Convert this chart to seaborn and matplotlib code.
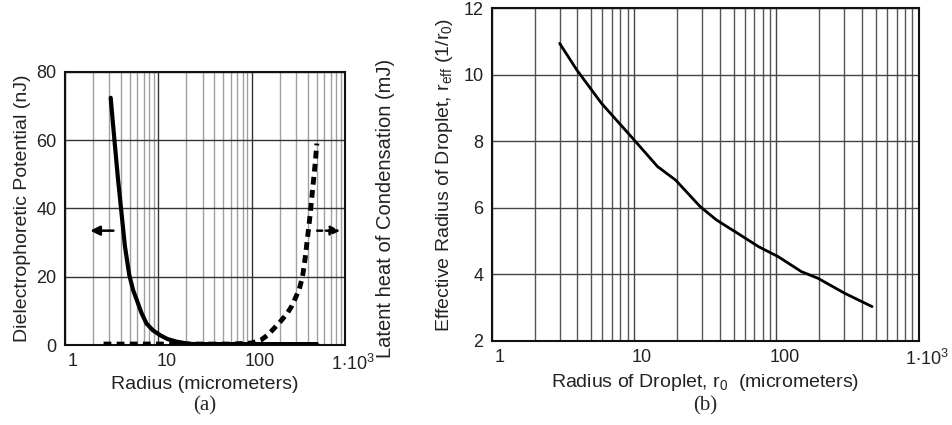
#!/usr/bin/env python3
"""
Two-panel log-x chart: dielectrophoretic potential vs latent heat (a),
effective droplet radius (b).
"""

import matplotlib
matplotlib.use("Agg")
import matplotlib.pyplot as plt
import matplotlib.transforms as mtransforms
from matplotlib.ticker import FixedLocator, FixedFormatter, NullFormatter
import seaborn as sns
import pandas as pd

sns.set_theme(style="white")
plt.rcParams['font.family'] = ['Liberation Sans', 'DejaVu Sans']
plt.rcParams['mathtext.default'] = 'regular'

# panel (a) data
dep_radius = [3.1, 3.25, 3.4, 3.7, 4.0, 4.4, 4.9, 5.4, 5.9, 6.6, 7.5, 8.8, 10.5, 12.5, 15.8, 20, 24, 50, 100, 200, 500]
dep_energy = [72.4, 66, 60, 49, 40, 29, 20.5, 16, 13.2, 9.5, 6.3, 4.3, 2.9, 1.8, 1.0, 0.5, 0.3, 0.3, 0.3, 0.3, 0.3]

heat_radius = [2.6, 10, 30, 60, 100, 126, 150, 174, 205, 241, 270, 297, 325, 351, 375, 398, 425, 448, 475, 500]
heat_energy = [0.3, 0.3, 0.3, 0.3, 0.6, 1.5, 3.0, 4.9, 7.0, 9.3, 11.5, 14, 16.5, 20, 25.5, 31.7, 38.5, 45, 52, 59]

# panel (b) data
drop_radius = [3.0, 3.96, 5.9, 10, 14.6, 19.6, 29.2, 38, 54, 75, 103, 150, 196, 302, 470]
eff_radius = [10.94, 10.14, 9.14, 8.04, 7.24, 6.83, 6.03, 5.63, 5.22, 4.83, 4.53, 4.08, 3.88, 3.43, 3.03]

xtick_vals = [1, 10, 100, 1000]
xtick_labels = ['1', '10', '100', r'1$\cdot$10$^3$']

df_dep = pd.DataFrame({'r': dep_radius, 'E': dep_energy})
df_heat = pd.DataFrame({'r': heat_radius, 'Q': heat_energy})
df_eff = pd.DataFrame({'r': drop_radius, 'reff': eff_radius})

fig = plt.figure(figsize=(9.53, 4.25), dpi=100)
ax_a = fig.add_axes([0.068, 0.188, 0.294, 0.643])
ax_b = fig.add_axes([0.516, 0.198, 0.448, 0.783])

minor_locs = [m * 10 ** d for d in range(3) for m in range(2, 10)]
text_color = '#222222'


def style_log_axis(ax, minor_color, major_color):
    ax.set_xscale('log')
    ax.set_xlim(1, 1000)
    ax.xaxis.set_major_locator(FixedLocator(xtick_vals))
    ax.xaxis.set_major_formatter(FixedFormatter(xtick_labels))
    ax.xaxis.set_minor_locator(FixedLocator(minor_locs))
    ax.xaxis.set_minor_formatter(NullFormatter())
    ax.grid(True, which='minor', axis='x', color=minor_color, lw=1.0)
    ax.grid(True, which='major', axis='both', color=major_color, lw=1.0)
    ax.tick_params(which='both', length=0, labelsize=13, colors=text_color, pad=6)
    for s in ax.spines.values():
        s.set_color('#111111')
        s.set_linewidth(1.5)
    ax.set_axisbelow(True)


def shift_xlabels(ax):
    # labels sit slightly right of their grid line in the original
    offset = mtransforms.ScaledTranslation(8 / 100, 0, fig.dpi_scale_trans)
    for lbl in ax.get_xticklabels():
        lbl.set_transform(lbl.get_transform() + offset)


# ---- panel (a) ----
sns.lineplot(data=df_dep, x='r', y='E', ax=ax_a, color='black', lw=3.0, zorder=3)
style_log_axis(ax_a, '#a0a0a0', '#333333')
ax_a.set_ylim(0, 80)
ax_a.set_yticks([0, 20, 40, 60, 80])
ax_a.set_xlabel('Radius (micrometers)', fontsize=14, labelpad=2, color=text_color)
ax_a.set_ylabel('Dielectrophoretic Potential (nJ)', fontsize=14, labelpad=4, color=text_color)

ax_a2 = ax_a.twinx()
sns.lineplot(data=df_heat, x='r', y='Q', ax=ax_a2, color='black', lw=3.5,
             linestyle=(0, (1.6, 1.1)), zorder=3)
ax_a2.set_ylim(0, 80)
ax_a2.set_yticks([])
ax_a2.set_ylabel('Latent heat of Condensation (mJ)', fontsize=14.5, labelpad=22, color=text_color)
for s in ax_a2.spines.values():
    s.set_visible(False)

ax_a.annotate('', xy=(1.75, 33.5), xytext=(3.55, 33.5),
              arrowprops=dict(arrowstyle='-|>', color='black', lw=1.8, mutation_scale=14))
ax_a.annotate('', xy=(950, 33.5), xytext=(470, 33.5),
              arrowprops=dict(arrowstyle='-|>', color='black', lw=1.8, ls=(0, (2, 1.5)),
                              mutation_scale=14))

# ---- panel (b) ----
sns.lineplot(data=df_eff, x='r', y='reff', ax=ax_b, color='black', lw=2.0, zorder=3)
style_log_axis(ax_b, '#555555', '#444444')
ax_b.set_ylim(2, 12)
ax_b.set_yticks([2, 4, 6, 8, 10, 12])
ax_b.set_xlabel('Radius of Droplet, r$_0$  (micrometers)', fontsize=14, labelpad=2, color=text_color)
ax_b.set_ylabel('Effective Radius of Droplet, r$_{eff}$ (1/r$_0$)', fontsize=14, labelpad=6,
                color=text_color)

fig.text(0.215, 0.045, '(a)', fontsize=15, family=['Liberation Serif'], ha='center', va='center')
fig.text(0.740, 0.045, '(b)', fontsize=15, family=['Liberation Serif'], ha='center', va='center')

fig.canvas.draw()
shift_xlabels(ax_a)
shift_xlabels(ax_b)

fig.savefig('out.png', dpi=100)
